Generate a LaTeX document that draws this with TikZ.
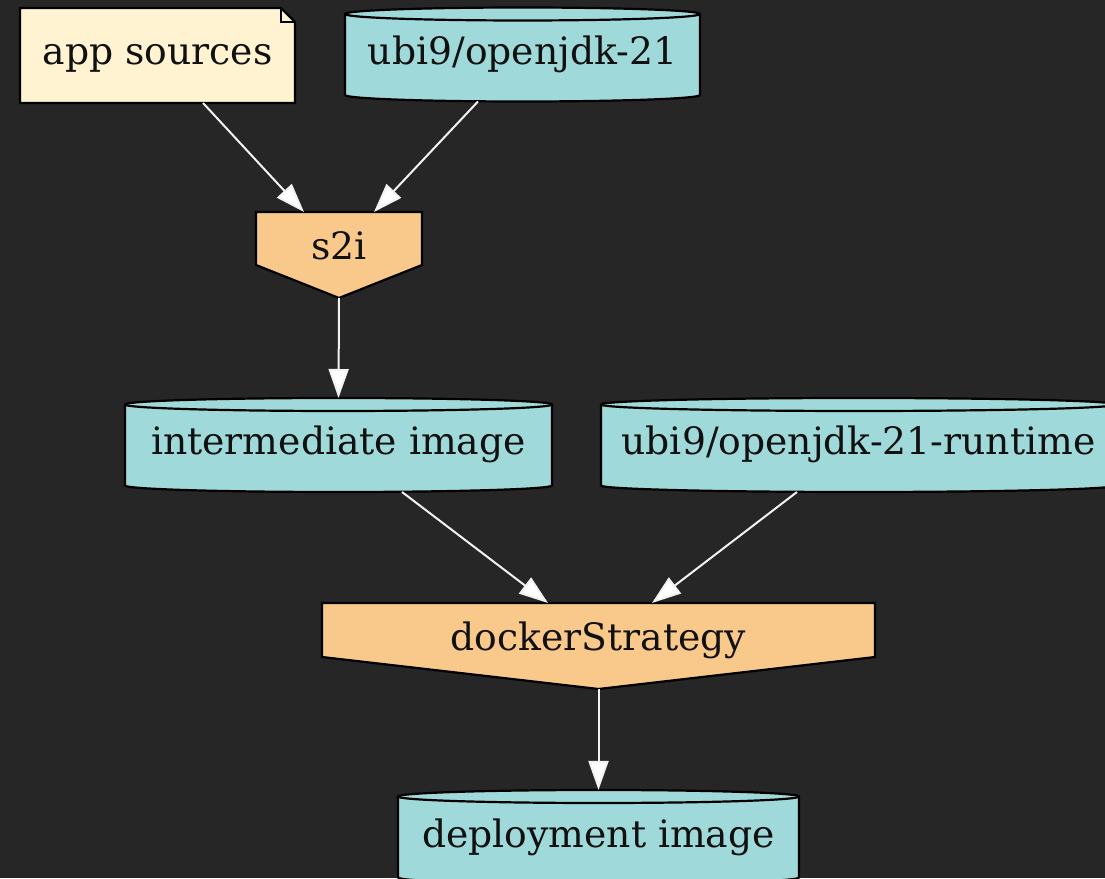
\documentclass[tikz,border=0pt]{standalone}
\usepackage{fontspec}
\setmainfont{DejaVu Serif}
\usetikzlibrary{calc,arrows.meta,backgrounds}
\definecolor{bgc}{HTML}{262626}
\definecolor{notec}{HTML}{FFF3D1}
\definecolor{cylc}{HTML}{A0D9D9}
\definecolor{housec}{HTML}{F9C98C}
\definecolor{edgec}{HTML}{F2F2F2}
\definecolor{txtc}{HTML}{111111}
\newcommand\cylshape[2]{%
  \path[shapefill=cylc] ($(#1.north west)+(0,-6.5)$) -- ($(#1.south west)+(0,6.5)$)
    arc[start angle=180,end angle=360,x radius=#2,y radius=6.5]
    -- ($(#1.north east)+(0,-6.5)$)
    arc[start angle=0,end angle=180,x radius=#2,y radius=6.5] -- cycle;
  \draw[shapeline] ($(#1.north west)+(0,-6.5)$)
    arc[start angle=180,end angle=360,x radius=#2,y radius=6.5];
}
\newcommand\houseshape[2]{%
  \path[shapefill=housec] (#1.north west) -- (#1.north east) -- ($(#1.north east)+(0,-#2)$)
    -- (#1.south) -- ($(#1.north west)+(0,-#2)$) -- cycle;
}
\newcommand\noteshape[2]{%
  \path[shapefill=notec] (#1.north west) -- ($(#1.north east)+(-#2,0)$) -- ($(#1.north east)+(0,-#2)$)
    -- (#1.south east) -- (#1.south west) -- cycle;
  \draw[shapeline] ($(#1.north east)+(-#2,0)$) -- ($(#1.north east)+(-#2,-#2)$) -- ($(#1.north east)+(0,-#2)$);
}
\tikzset{
  shapefill/.style={fill=#1,draw=black,line width=2.2pt,line join=miter},
  shapeline/.style={draw=black,line width=2.2pt},
  box/.style={inner sep=0pt,outer sep=0pt,text=txtc,
    font=\fontsize{37.7}{45}\selectfont,text depth=5pt},
  cylbox/.style={box,text height=25pt,minimum height=94pt},
  notebox/.style={box,text height=24pt,minimum height=95pt},
  housebox/.style={box,text height=14pt,minimum height=86pt},
  edge/.style={draw=edgec,line width=2pt,
    -{Triangle[length=29pt,width=20pt,fill=white]}}
}
\begin{document}
\begin{tikzpicture}[x=1pt,y=1pt]
\useasboundingbox (0,0) rectangle (1105,878);
\begin{scope}[on background layer]
  \fill[bgc] (0,0) rectangle (1105,878);
\end{scope}

\node[notebox,minimum width=275pt] (app) at (157.5,822.5) {app sources};
\node[cylbox,minimum width=355pt] (jdk) at (522.5,823.5) {ubi9/openjdk-21};
\node[housebox,minimum width=166pt] (s2i) at (339,623) {s2i};
\node[cylbox,minimum width=427pt] (inter) at (338.5,433) {intermediate image};
\node[cylbox,minimum width=515pt] (runtime) at (858.5,433) {ubi9/openjdk-21-runtime};
\node[housebox,minimum width=553pt] (docker) at (598.5,232) {dockerStrategy};
\node[cylbox,minimum width=401pt] (deploy) at (598.5,41) {deployment image};

\begin{scope}[on background layer]
  \noteshape{app}{14}
  \cylshape{jdk}{177.5}
  \houseshape{s2i}{53}
  \cylshape{inter}{213.5}
  \cylshape{runtime}{257.5}
  \houseshape{docker}{54}
  \cylshape{deploy}{200.5}
\end{scope}

\draw[edge] ($(app.south)+(45.5,0)$) -- ($(s2i.north)+(-35,0)$);
\draw[edge] ($(jdk.south)+(-44.5,0)$) -- ($(s2i.north)+(35,0)$);
\draw[edge] (s2i.south) -- (inter.north);
\draw[edge] ($(inter.south)+(63.5,0)$) -- ($(docker.north)+(-50.5,0)$);
\draw[edge] ($(runtime.south)+(-61.5,0)$) -- ($(docker.north)+(53.5,0)$);
\draw[edge] (docker.south) -- (deploy.north);
\end{tikzpicture}
\end{document}
